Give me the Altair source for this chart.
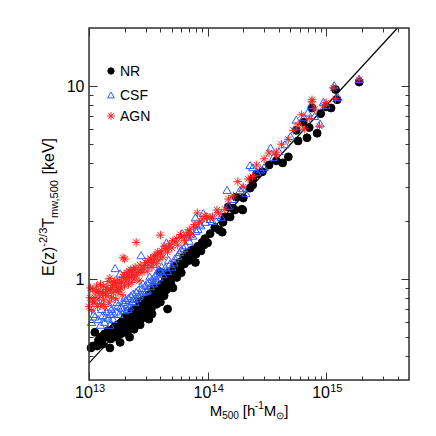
import altair as alt
import pandas as pd

series_names = ["NR", "CSF", "AGN"]

# (M500 in units of 1e13 h^-1 Msun, T in keV)
nr_pts = [
    (1.04, 0.44), (1.08, 0.45), (1.12, 0.53), (1.17, 0.45), (1.2, 0.48), (1.25, 0.50), (1.3, 0.46), (1.35, 0.52),
    (1.4, 0.50), (1.45, 0.54), (1.5, 0.44), (1.5, 0.53), (1.53, 0.49), (1.55, 0.51), (1.58, 0.55), (1.6, 0.52),
    (1.65, 0.57), (1.68, 0.54), (1.7, 0.50), (1.75, 0.58), (1.78, 0.55), (1.83, 0.47), (1.85, 0.52), (1.88, 0.60),
    (1.9, 0.56), (1.95, 0.60), (1.98, 0.57), (2.0, 0.53), (2.02, 0.64), (2.05, 0.62), (2.08, 0.61), (2.1, 0.57),
    (2.15, 0.55), (2.18, 0.60), (2.2, 0.65), (2.2, 0.50), (2.26, 0.56), (2.28, 0.68), (2.3, 0.60), (2.35, 0.58),
    (2.38, 0.64), (2.4, 0.69), (2.4, 0.55), (2.45, 0.63), (2.48, 0.70), (2.5, 0.67), (2.55, 0.60), (2.58, 0.66),
    (2.6, 0.72), (2.65, 0.76), (2.68, 0.72), (2.7, 0.66), (2.7, 0.58), (2.75, 0.62), (2.8, 0.74), (2.85, 0.78),
    (2.9, 0.70), (2.95, 0.75), (3.0, 0.66), (3.0, 0.77), (3.05, 0.72), (3.1, 0.69), (3.15, 0.78), (3.2, 0.83),
    (3.2, 0.62), (3.25, 0.80), (3.3, 0.73), (3.35, 0.70), (3.4, 0.86), (3.4, 0.66), (3.45, 0.77), (3.5, 0.80),
    (3.55, 0.90), (3.6, 0.76), (3.65, 0.83), (3.7, 0.74), (3.75, 0.85), (3.8, 0.90), (3.85, 0.79), (3.9, 0.82),
    (4.0, 0.76), (4.0, 1.09), (4.1, 0.94), (4.15, 0.87), (4.2, 0.90), (4.3, 0.82), (4.35, 0.93), (4.4, 1.00),
    (4.5, 0.88), (4.55, 0.98), (4.6, 1.08), (4.6, 0.70), (4.7, 0.96), (4.8, 1.02), (4.9, 0.95), (5.0, 1.06),
    (5.1, 0.90), (5.2, 1.14), (5.3, 1.17), (5.4, 1.10), (5.5, 1.02), (5.6, 1.12), (5.8, 1.22), (5.9, 1.16),
    (6.0, 1.08), (6.1, 1.20), (6.3, 1.30), (6.4, 1.20), (6.5, 1.25), (6.7, 1.36), (6.9, 1.30), (7.0, 1.25),
    (7.2, 1.40), (7.4, 1.33), (7.5, 1.42), (7.9, 1.22), (8.0, 1.35), (8.3, 1.48), (8.6, 1.45), (8.8, 1.40),
    (9.0, 1.55), (9.3, 1.50), (9.5, 1.62), (10.0, 1.54), (10.5, 1.72), (11.5, 1.85), (12.5, 1.80), (13.3, 1.75),
    (13.5, 1.97), (14.0, 2.10), (14.9, 2.36), (15.5, 2.10), (16.4, 2.33), (17.0, 2.28), (17.4, 2.66), (19.5, 2.30),
    (19.8, 2.28), (20.0, 2.63), (22.8, 2.96), (24.0, 3.07), (24.0, 3.30), (26.0, 3.50), (29.0, 3.60), (33.0, 3.90),
    (38.0, 4.10), (43.0, 4.00), (48.0, 4.30), (56.0, 5.90), (58.0, 5.20), (64.0, 6.50), (69.0, 5.40), (72.0, 6.10),
    (76.0, 7.70), (84.0, 5.70), (90.0, 7.20), (100.0, 7.80), (110.0, 7.70), (120.0, 9.60), (124.0, 8.50),
    (190.0, 10.50),
]

csf_pts = [
    (1.05, 0.60), (1.1, 0.66), (1.12, 0.64), (1.15, 0.78), (1.2, 0.62), (1.25, 0.58), (1.28, 0.70), (1.3, 0.65),
    (1.35, 0.60), (1.38, 0.64), (1.4, 0.68), (1.45, 0.63), (1.48, 0.72), (1.5, 0.58), (1.53, 0.66), (1.55, 0.70),
    (1.6, 0.62), (1.62, 0.66), (1.66, 1.14), (1.7, 0.68), (1.72, 0.76), (1.75, 0.73), (1.8, 0.66), (1.83, 1.07),
    (1.85, 0.72), (1.9, 0.71), (1.95, 0.76), (2.0, 0.69), (2.0, 0.80), (2.05, 0.78), (2.1, 0.74), (2.12, 0.70),
    (2.15, 0.80), (2.2, 0.72), (2.25, 0.82), (2.26, 1.07), (2.3, 0.77), (2.35, 0.84), (2.4, 0.79), (2.45, 0.76),
    (2.5, 0.86), (2.55, 0.80), (2.6, 0.88), (2.65, 0.82), (2.7, 0.84), (2.75, 1.33), (2.8, 0.90), (2.85, 0.95),
    (2.9, 0.86), (3.0, 0.93), (3.05, 0.87), (3.1, 0.88), (3.2, 0.97), (3.25, 1.03), (3.3, 0.92), (3.4, 1.00),
    (3.5, 0.95), (3.55, 0.98), (3.6, 1.04), (3.7, 0.99), (3.8, 1.08), (3.85, 1.12), (3.9, 1.02), (4.0, 1.10),
    (4.1, 1.16), (4.2, 1.06), (4.4, 1.15), (4.5, 1.55), (4.6, 1.10), (4.7, 1.26), (4.8, 1.20), (5.0, 1.16),
    (5.2, 1.22), (5.3, 1.28), (5.6, 1.32), (5.8, 1.38), (6.0, 1.42), (6.1, 1.73), (6.3, 1.45), (6.5, 1.50),
    (6.8, 1.66), (7.0, 1.58), (7.2, 1.72), (7.5, 1.68), (7.9, 2.09), (8.0, 1.78), (8.3, 1.82), (8.6, 1.94),
    (8.8, 1.90), (9.2, 2.20), (9.6, 1.98), (10.5, 2.05), (11.0, 2.00), (12.0, 2.15), (13.0, 2.10), (14.6, 2.90),
    (15.0, 2.40), (16.0, 2.60), (18.8, 2.90), (19.8, 2.96), (21.0, 2.80), (22.8, 3.90), (24.0, 3.80), (26.0, 3.60),
    (28.0, 3.70), (30.0, 3.80), (34.0, 4.80), (36.0, 4.30), (40.0, 4.60), (45.0, 5.00), (50.0, 5.50), (56.0, 6.70),
    (60.0, 6.20), (65.0, 6.90), (70.0, 7.30), (75.0, 8.00), (80.0, 7.00), (89.0, 6.40), (95.0, 8.30), (100.0, 8.00),
    (117.0, 10.1), (125.0, 8.80), (190.0, 10.9),
]

agn_pts = [
    (1.0, 0.72), (1.02, 0.80), (1.03, 0.90), (1.05, 0.69), (1.07, 0.76), (1.08, 0.88), (1.1, 0.76), (1.12, 0.80),
    (1.14, 0.86), (1.16, 0.92), (1.18, 0.72), (1.2, 0.86), (1.22, 0.80), (1.24, 0.86), (1.25, 0.94), (1.28, 0.74),
    (1.3, 0.84), (1.32, 0.92), (1.33, 0.78), (1.36, 0.72), (1.38, 0.84), (1.4, 0.90), (1.42, 0.82), (1.44, 0.88),
    (1.45, 0.97), (1.48, 0.76), (1.5, 1.01), (1.52, 0.88), (1.55, 0.80), (1.56, 0.90), (1.58, 0.93), (1.6, 0.85),
    (1.62, 0.96), (1.65, 0.98), (1.68, 0.79), (1.7, 0.91), (1.72, 0.95), (1.75, 0.86), (1.78, 0.88), (1.8, 0.99),
    (1.85, 0.90), (1.88, 0.96), (1.9, 0.83), (1.94, 1.29), (1.95, 1.02), (1.98, 1.06), (2.0, 0.92), (2.0, 1.27),
    (2.05, 0.98), (2.08, 1.02), (2.1, 1.08), (2.15, 0.94), (2.18, 1.10), (2.2, 1.02), (2.25, 1.12), (2.28, 1.04),
    (2.3, 0.96), (2.35, 1.06), (2.38, 1.12), (2.4, 1.00), (2.45, 1.15), (2.5, 1.55), (2.5, 1.04), (2.55, 1.08),
    (2.6, 1.10), (2.65, 0.98), (2.7, 1.18), (2.75, 1.12), (2.8, 1.08), (2.9, 1.14), (2.95, 1.18), (3.0, 1.22),
    (3.1, 1.10), (3.15, 1.25), (3.2, 1.18), (3.3, 1.28), (3.35, 1.22), (3.4, 1.15), (3.5, 1.24), (3.55, 1.30),
    (3.6, 1.32), (3.7, 1.20), (3.75, 1.34), (3.8, 1.38), (3.9, 1.26), (4.0, 1.69), (4.0, 1.35), (4.1, 1.40),
    (4.2, 1.30), (4.3, 1.48), (4.4, 1.44), (4.6, 1.38), (4.7, 1.45), (4.8, 1.52), (5.0, 1.45), (5.1, 1.58),
    (5.3, 1.56), (5.5, 1.62), (5.6, 1.50), (5.9, 1.70), (6.0, 1.64), (6.4, 1.58), (6.6, 1.68), (6.8, 1.75),
    (7.0, 1.80), (7.2, 1.70), (7.6, 1.86), (7.8, 1.92), (8.2, 2.20), (8.5, 1.96), (9.0, 2.05), (9.5, 2.12),
    (9.8, 2.10), (10.5, 2.08), (11.0, 2.10), (12.0, 2.28), (12.5, 2.20), (14.0, 2.30), (15.0, 2.60), (16.5, 2.70),
    (18.0, 3.20), (20.0, 3.00), (22.0, 3.30), (24.0, 3.40), (26.0, 3.90), (30.0, 4.20), (33.0, 4.50), (38.0, 4.40),
    (38.0, 4.55), (42.0, 5.00), (48.0, 5.30), (53.0, 5.90), (58.0, 6.30), (62.0, 7.10), (66.0, 6.00), (72.0, 6.80),
    (76.0, 8.30), (76.0, 8.50), (80.0, 7.60), (88.0, 6.20), (95.0, 7.90), (100.0, 8.20), (115.0, 9.80),
    (120.0, 8.60), (190.0, 10.80),
]

# fitted power-law line endpoints
line_m = [1.0e13, 4.0e15]
line_t = [0.367, 20.0]

x_label_vals = [1e13, 1e14, 1e15]
x_label_base = ["10", "10", "10"]
x_label_exp = ["13", "14", "15"]
y_label_vals = [1, 10]

x_minor = [k * 1e13 for k in range(2, 10)] + [k * 1e14 for k in range(2, 10)] + [2e15, 3e15, 4e15]
y_minor = [0.4, 0.5, 0.6, 0.7, 0.8, 0.9, 2, 3, 4, 5, 6, 7, 8, 9]

ytitle_text = ["E(z)", "-2/3", "T", "mw,500", "[keV]"]
xtitle_text = ["M", "500", "[h", "-1", "M", "\u2299", "]"]

colors = ["black", "#2f5bff", "#ff1f1f"]
fills = ["black", "transparent", "transparent"]
ASTER = "M-1,0L1,0M0,-1L0,1M-0.72,-0.72L0.72,0.72M-0.72,0.72L0.72,-0.72"
shapes = ["circle", "triangle-up", ASTER]
sizes = [62, 72, 100]

rows = []
for name, pts in zip(series_names, [nr_pts, csf_pts, agn_pts]):
    for m, t in pts:
        rows.append({"M": m * 1e13, "T": t, "series": name})
df = pd.DataFrame(rows)
line_df = pd.DataFrame({"M": line_m, "T": line_t})
xlab_df = pd.DataFrame({"v": x_label_vals, "base": x_label_base, "exp": x_label_exp})
one = pd.DataFrame({"k": [0]})

W, H = 320, 352
FONT = "Liberation Sans"
AX = "#333333"
xscale = alt.Scale(type="log", domain=[1e13, 5e15], nice=False)
yscale = alt.Scale(type="log", domain=[0.3, 20], nice=False)


def ax(orient, values, size, labels=False, **kw):
    return alt.Axis(orient=orient, values=values, tickSize=size, offset=-size, domain=False,
                    grid=False, labels=labels, title=None, ticks=True, tickColor=AX, tickWidth=1, **kw)


line = alt.Chart(line_df).mark_line(color="black", strokeWidth=1.2).encode(
    x=alt.X("M:Q", scale=xscale, axis=ax("bottom", x_label_vals, 8)),
    y=alt.Y("T:Q", scale=yscale, axis=ax("left", y_label_vals, 8, labels=True, labelFontSize=16,
                                        labelFont=FONT, labelPadding=5, labelColor="black", format="~g")),
)

points = alt.Chart(df).mark_point(filled=False, strokeWidth=1, opacity=1).encode(
    x=alt.X("M:Q", scale=xscale, axis=ax("bottom", x_minor, 4)),
    y=alt.Y("T:Q", scale=yscale, axis=ax("left", y_minor, 4)),
    shape=alt.Shape("series:N", scale=alt.Scale(domain=series_names, range=shapes), legend=None),
    stroke=alt.Stroke("series:N", scale=alt.Scale(domain=series_names, range=colors), legend=None),
    fill=alt.Fill("series:N", scale=alt.Scale(domain=series_names, range=fills), legend=None),
    size=alt.Size("series:N", scale=alt.Scale(domain=series_names, range=sizes), legend=None),
)

top_right_major = alt.Chart(line_df).mark_line(strokeOpacity=0).encode(
    x=alt.X("M:Q", scale=xscale, axis=ax("top", x_label_vals, 8)),
    y=alt.Y("T:Q", scale=yscale, axis=ax("right", y_label_vals, 8)),
)
top_right_minor = alt.Chart(line_df).mark_line(strokeOpacity=0).encode(
    x=alt.X("M:Q", scale=xscale, axis=ax("top", x_minor, 4)),
    y=alt.Y("T:Q", scale=yscale, axis=ax("right", y_minor, 4)),
)

frame = alt.Chart(one).mark_rect(fill="transparent", stroke=AX, strokeWidth=1.5).encode(
    x=alt.value(0), x2=alt.value(W), y=alt.value(0), y2=alt.value(H))

xlab_base = alt.Chart(xlab_df).mark_text(align="left", baseline="alphabetic", dx=-14, fontSize=16,
                                         font=FONT, color="black").encode(
    x=alt.X("v:Q", scale=xscale, axis=None), y=alt.value(H + 18), text="base:N")
xlab_exp = alt.Chart(xlab_df).mark_text(align="left", baseline="alphabetic", dx=4, fontSize=11,
                                        font=FONT, color="black").encode(
    x=alt.X("v:Q", scale=xscale, axis=None), y=alt.value(H + 12), text="exp:N")

# legend (drawn by hand inside the plot)
legend_layers = []
leg_y = [43, 67, 88]
leg_sizes = [40, 45, 60]
for i, name in enumerate(series_names):
    legend_layers.append(
        alt.Chart(one).mark_point(filled=False, strokeWidth=1, opacity=1, shape=shapes[i],
                                  stroke=colors[i], fill=fills[i], size=leg_sizes[i])
        .encode(x=alt.value(22), y=alt.value(leg_y[i])))
    legend_layers.append(
        alt.Chart(one).mark_text(text=name, align="left", baseline="middle", fontSize=14, font=FONT,
                                 color="black")
        .encode(x=alt.value(31), y=alt.value(leg_y[i] + 1)))

# title layout: segments placed one after another, using approximate Helvetica advance widths
ADV = {"E": 667, "(": 333, ")": 333, "z": 500, "T": 611, " ": 278, "[": 278, "]": 278, "k": 500, "e": 556,
       "V": 667, "M": 833, "h": 556, "-": 333, "/": 278, "m": 833, "w": 722, ",": 278, "\u2299": 800}


def width(s, fs):
    return sum(ADV.get(c, 556) for c in s) * fs / 1000.0


y_sizes = [16, 11, 16, 11, 16]
y_shift = [0, -7, 0, 4, 0]        # + is toward the plot (subscript), - is away (superscript)
y_gap = [0, 0, 0, 0, 5]           # extra space before the segment
x_sizes = [15, 10, 15, 10, 15, 10, 15]
x_shift = [0, 3, 0, -7, 0, 3, 0]  # + is down
x_gap = [0, 0, 4, -0.5, 0, 0, 0]

title_layers = []
ytot = sum(width(t, f) + g for t, f, g in zip(ytitle_text, y_sizes, y_gap))
pos = 179 + ytot / 2
for txt, fs, sh, g in zip(ytitle_text, y_sizes, y_shift, y_gap):
    pos -= g
    title_layers.append(alt.Chart(one).mark_text(text=txt, angle=270, align="left", baseline="alphabetic",
                                                 fontSize=fs, font=FONT, color="black")
                        .encode(x=alt.value(-35 + sh), y=alt.value(pos)))
    pos -= width(txt, fs)

xtot = sum(width(t, f) + g for t, f, g in zip(xtitle_text, x_sizes, x_gap))
pos = 160 - xtot / 2
for txt, fs, sh, g in zip(xtitle_text, x_sizes, x_shift, x_gap):
    pos += g
    title_layers.append(alt.Chart(one).mark_text(text=txt, align="left", baseline="alphabetic",
                                                 fontSize=fs, font=FONT, color="black")
                        .encode(x=alt.value(pos), y=alt.value(388 + sh)))
    pos += width(txt, fs)

chart = alt.layer(line, points, top_right_major, top_right_minor, frame, xlab_base, xlab_exp,
                  *legend_layers, *title_layers).resolve_axis(
    x="independent", y="independent"
).properties(
    width=W, height=H,
    autosize=alt.AutoSizeParams(type="none"),
    padding={"left": 81, "top": 20, "right": 19, "bottom": 48},
).configure_view(stroke=None).configure(background="white")

chart.save("out.html", embed_options={"renderer": "svg", "actions": False})
